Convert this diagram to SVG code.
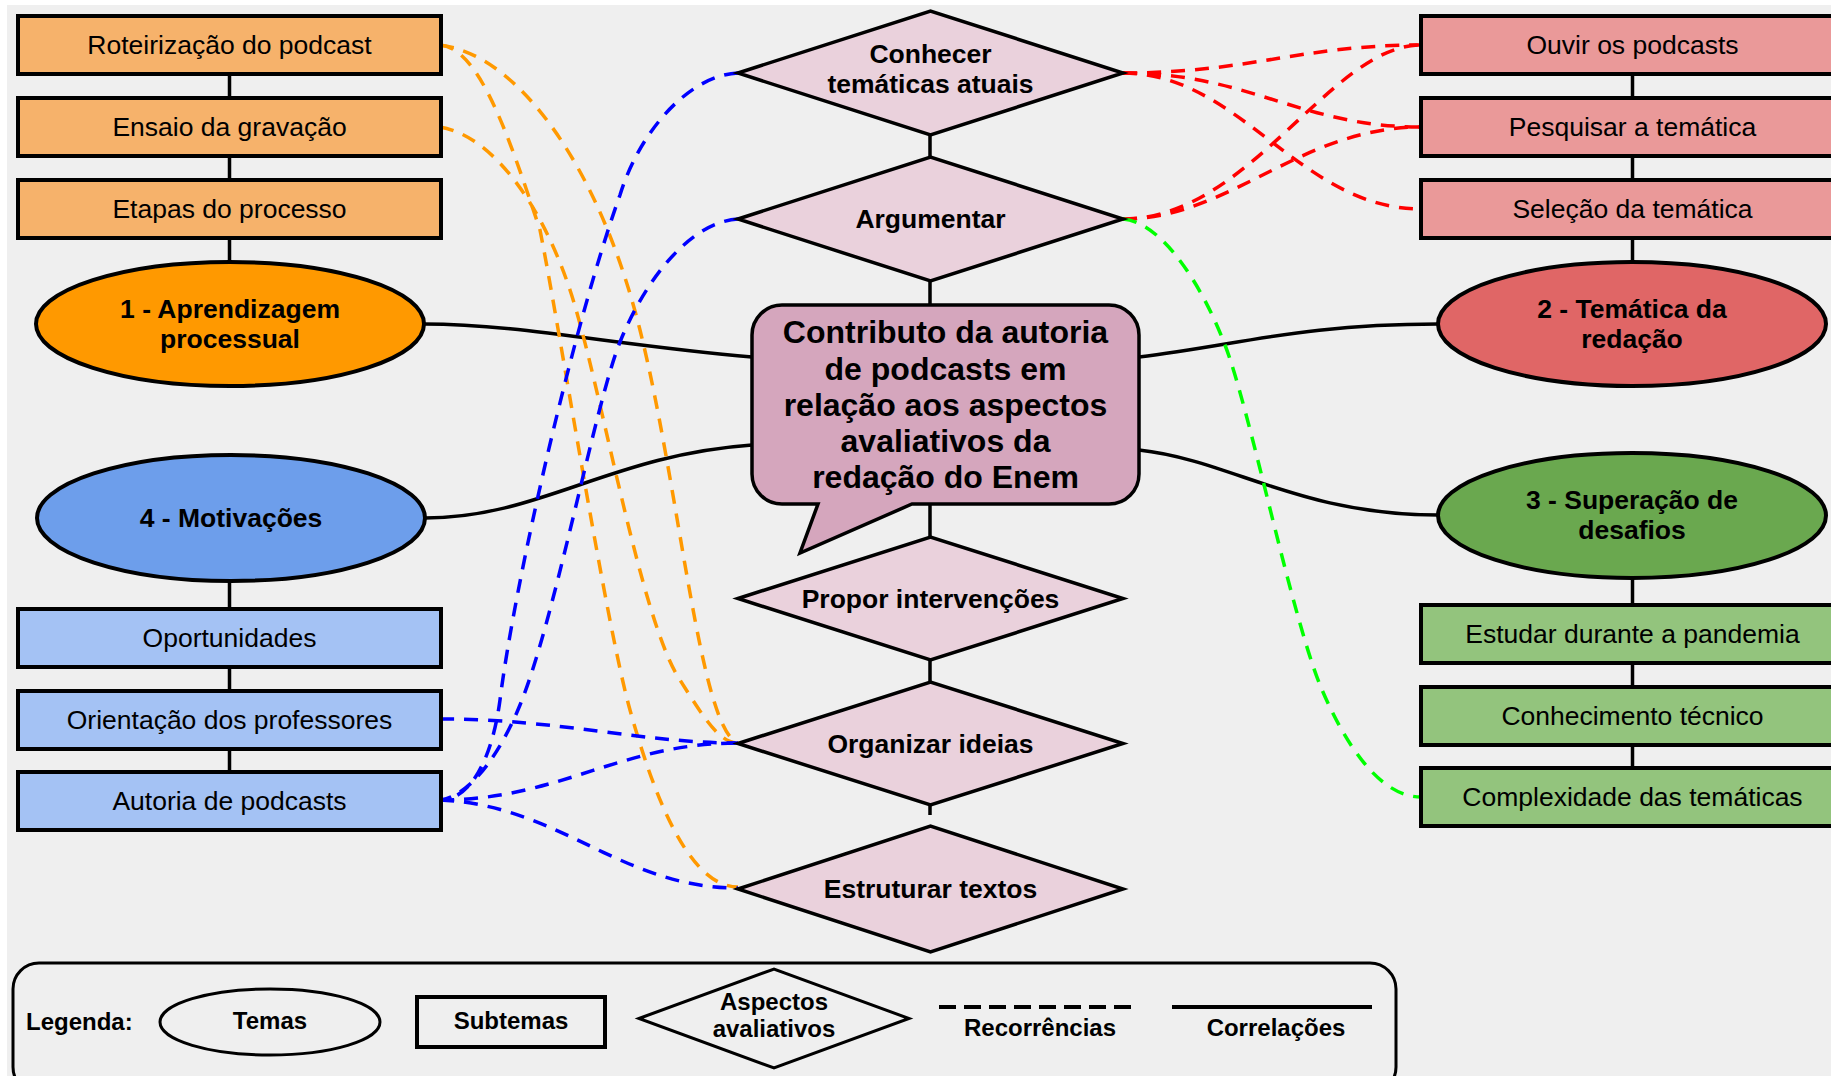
<svg xmlns="http://www.w3.org/2000/svg" width="1831" height="1076" viewBox="0 0 1831 1076">
<style>
  text { font-family: "Liberation Sans", Arial, sans-serif; fill: #000; text-anchor: middle; }
  .sub { font-size: 26.5px; }
  .b { font-size: 26.5px; font-weight: bold; }
  .title { font-size: 32px; font-weight: bold; }
  .leg { font-size: 24px; font-weight: bold; }
  .box { stroke: #000; stroke-width: 4; }
  .ell { stroke: #000; stroke-width: 4; }
  .dia { fill: #ead1dc; stroke: #000; stroke-width: 3.5; stroke-linejoin: miter; }
  .solid { fill: none; stroke: #000; stroke-width: 3.5; }
  .dash { fill: none; stroke-width: 3.5; stroke-dasharray: 14 10; }
  .or { stroke: #ff9900; }
  .bl { stroke: #0000ff; }
  .rd { stroke: #ff0000; }
  .gr { stroke: #00ff00; }
</style>
<rect x="0" y="0" width="1831" height="1076" fill="#ffffff"/>
<rect x="7" y="5" width="1824" height="1071" fill="#efefef"/>

<g id="connectors">
  <!-- solid vertical links -->
  <path class="solid" d="M229.5,74V98M229.5,156V180M229.5,238V262M229.5,582V609M229.5,667V691M229.5,749V772"/>
  <path class="solid" d="M1632.5,74V98M1632.5,156V180M1632.5,238V262M1632.5,578V605M1632.5,663V687M1632.5,745V768"/>
  <path class="solid" d="M930,135V157M930,281V305M930,504V537M930,660V682M930,805V815"/>
  <!-- solid theme links -->
  <path class="solid" d="M424,324 C520,324 620,346 752,357"/>
  <path class="solid" d="M425,518 C540,518 610,455 752,445"/>
  <path class="solid" d="M1139,357 C1240,345 1300,324 1438,324"/>
  <path class="solid" d="M1139,450 C1230,460 1300,515 1438,515"/>
  <!-- orange -->
  <path class="dash or" d="M440,45 C520,55 600,170 640,330 C680,490 700,730 738,743"/>
  <path class="dash or" d="M440,45 C480,48 510,140 540,230 C560,330 605,620 630,710 C655,800 690,887 738,887"/>
  <path class="dash or" d="M440,127 C490,135 540,200 570,290 C600,380 640,620 680,680 C705,720 720,743 738,743"/>
  <!-- blue -->
  <path class="dash bl" d="M738,73 C690,75 640,130 620,195 C575,320 515,580 500,700 C492,760 470,800 440,800"/>
  <path class="dash bl" d="M738,219 C690,222 645,280 620,342 C595,404 555,620 520,705 C505,742 475,795 440,800"/>
  <path class="dash bl" d="M440,719 C560,719 640,743 738,743"/>
  <path class="dash bl" d="M440,800 C560,800 620,743 738,743"/>
  <path class="dash bl" d="M440,800 C560,805 620,888 738,888"/>
  <!-- red -->
  <path class="dash rd" d="M1123,73 C1250,73 1300,45 1421,45"/>
  <path class="dash rd" d="M1123,73 C1250,73 1300,127 1421,127"/>
  <path class="dash rd" d="M1123,73 C1240,73 1300,209 1421,209"/>
  <path class="dash rd" d="M1123,219 C1250,219 1330,45 1421,45"/>
  <path class="dash rd" d="M1123,219 C1230,219 1300,127 1421,127"/>
  <!-- green -->
  <path class="dash gr" d="M1123,219 C1160,222 1200,280 1225,345 C1250,410 1290,610 1320,685 C1345,745 1380,797 1421,797"/>
</g>

<!-- Left column: theme 1 -->
<g id="rot"><rect class="box" x="18" y="16" width="423" height="58" fill="#f6b26b"/><text class="sub" x="229.5" y="54">Roteirização do podcast</text></g>
<g id="ensaio"><rect class="box" x="18" y="98" width="423" height="58" fill="#f6b26b"/><text class="sub" x="229.5" y="136">Ensaio da gravação</text></g>
<g id="etapas"><rect class="box" x="18" y="180" width="423" height="58" fill="#f6b26b"/><text class="sub" x="229.5" y="218">Etapas do processo</text></g>
<g id="tema1"><ellipse class="ell" cx="230" cy="324" rx="194" ry="62" fill="#ff9900"/><text class="b" x="230" y="318">1 - Aprendizagem</text><text class="b" x="230" y="348">processual</text></g>

<!-- Left column: theme 4 -->
<g id="tema4"><ellipse class="ell" cx="231" cy="518" rx="194" ry="63" fill="#6d9eeb"/><text class="b" x="231" y="527">4 - Motivações</text></g>
<g id="oport"><rect class="box" x="18" y="609" width="423" height="58" fill="#a4c2f4"/><text class="sub" x="229.5" y="647">Oportunidades</text></g>
<g id="orient"><rect class="box" x="18" y="691" width="423" height="58" fill="#a4c2f4"/><text class="sub" x="229.5" y="729">Orientação dos professores</text></g>
<g id="autoria"><rect class="box" x="18" y="772" width="423" height="58" fill="#a4c2f4"/><text class="sub" x="229.5" y="810">Autoria de podcasts</text></g>

<!-- Right column: theme 2 -->
<g id="ouvir"><rect class="box" x="1421" y="16" width="423" height="58" fill="#ea9999"/><text class="sub" x="1632.5" y="54">Ouvir os podcasts</text></g>
<g id="pesquisar"><rect class="box" x="1421" y="98" width="423" height="58" fill="#ea9999"/><text class="sub" x="1632.5" y="136">Pesquisar a temática</text></g>
<g id="selecao"><rect class="box" x="1421" y="180" width="423" height="58" fill="#ea9999"/><text class="sub" x="1632.5" y="218">Seleção da temática</text></g>
<g id="tema2"><ellipse class="ell" cx="1632" cy="324" rx="194" ry="62" fill="#e06666"/><text class="b" x="1632" y="318">2 - Temática da</text><text class="b" x="1632" y="348">redação</text></g>

<!-- Right column: theme 3 -->
<g id="tema3"><ellipse class="ell" cx="1632" cy="515.5" rx="194" ry="62.5" fill="#6aa84f"/><text class="b" x="1632" y="509">3 - Superação de</text><text class="b" x="1632" y="539">desafios</text></g>
<g id="estudar"><rect class="box" x="1421" y="605" width="423" height="58" fill="#93c47d"/><text class="sub" x="1632.5" y="643">Estudar durante a pandemia</text></g>
<g id="conhec"><rect class="box" x="1421" y="687" width="423" height="58" fill="#93c47d"/><text class="sub" x="1632.5" y="725">Conhecimento técnico</text></g>
<g id="complex"><rect class="box" x="1421" y="768" width="423" height="58" fill="#93c47d"/><text class="sub" x="1632.5" y="806">Complexidade das temáticas</text></g>

<!-- Center column -->
<g id="conhecer"><polygon class="dia" points="738,73 930.5,11 1123,73 930.5,135"/><text class="b" x="930.5" y="63">Conhecer</text><text class="b" x="930.5" y="93">temáticas atuais</text></g>
<g id="argumentar"><polygon class="dia" points="738,219 930.5,157 1123,219 930.5,281"/><text class="b" x="930.5" y="228">Argumentar</text></g>
<g id="central"><path d="M782,305 H1109 A30,30 0 0 1 1139,335 V474 A30,30 0 0 1 1109,504 H912 L800,553 L818,504 H782 A30,30 0 0 1 752,474 V335 A30,30 0 0 1 782,305 Z" fill="#d5a6bd" stroke="#000" stroke-width="3.5" stroke-linejoin="miter"/>
  <text class="title" x="945.5" y="343">Contributo da autoria</text>
  <text class="title" x="945.5" y="380">de podcasts em</text>
  <text class="title" x="945.5" y="416">relação aos aspectos</text>
  <text class="title" x="945.5" y="452">avaliativos da</text>
  <text class="title" x="945.5" y="488">redação do Enem</text>
</g>
<g id="propor"><polygon class="dia" points="738,598.5 930.5,537 1123,598.5 930.5,660"/><text class="b" x="930.5" y="607.5">Propor intervenções</text></g>
<g id="organizar"><polygon class="dia" points="738,743.5 930.5,682 1123,743.5 930.5,805"/><text class="b" x="930.5" y="752.5">Organizar ideias</text></g>
<g id="estruturar"><polygon class="dia" points="738,889 930.5,826 1123,889 930.5,952"/><text class="b" x="930.5" y="898">Estruturar textos</text></g>

<!-- Legend -->
<g id="legend">
  <rect x="13" y="963" width="1383" height="130" rx="26" ry="26" fill="none" stroke="#000" stroke-width="3"/>
  <text class="leg" x="26" y="1030" style="text-anchor:start">Legenda:</text>
  <ellipse cx="270" cy="1022" rx="110" ry="33" fill="none" stroke="#000" stroke-width="3"/>
  <text class="leg" x="270" y="1029">Temas</text>
  <rect x="417" y="997" width="188" height="50" fill="none" stroke="#000" stroke-width="4"/>
  <text class="leg" x="511" y="1029">Subtemas</text>
  <polygon points="639,1018.5 774,969 909,1018.5 774,1068" fill="none" stroke="#000" stroke-width="3"/>
  <text class="leg" x="774" y="1010">Aspectos</text>
  <text class="leg" x="774" y="1037">avaliativos</text>
  <line x1="939" y1="1007" x2="1137" y2="1007" stroke="#000" stroke-width="4" stroke-dasharray="17 8"/>
  <text class="leg" x="1040" y="1036">Recorrências</text>
  <line x1="1172" y1="1007" x2="1372" y2="1007" stroke="#000" stroke-width="4"/>
  <text class="leg" x="1276" y="1036">Correlações</text>
</g>
</svg>
